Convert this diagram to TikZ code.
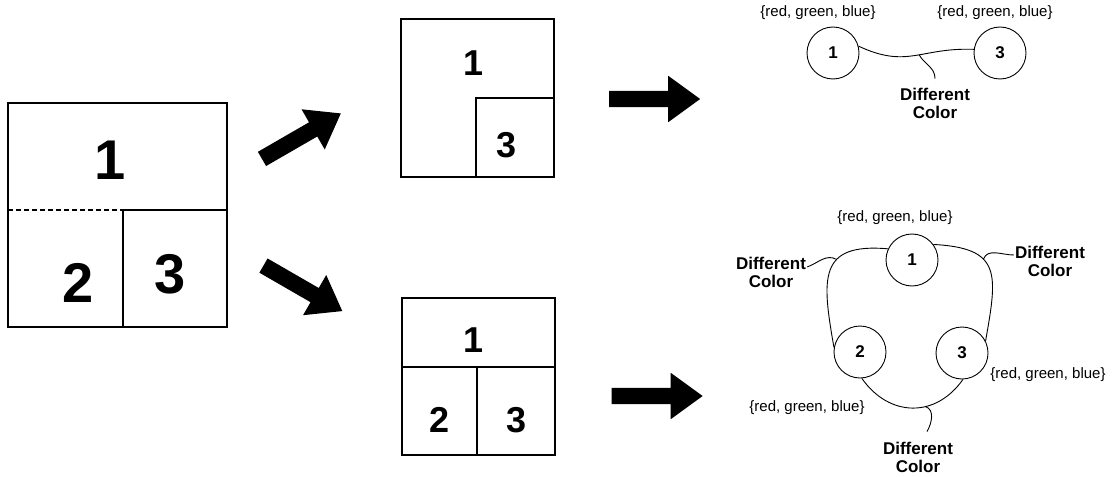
\documentclass[tikz,border=0pt]{standalone}
\usepackage{fontspec}
\setmainfont{Liberation Sans}
\usetikzlibrary{shapes.arrows}

\begin{document}
\begin{tikzpicture}[x=1pt, y=1pt,
  region/.style={line width=2pt},
  bignum/.style={font=\fontsize{56}{56}\selectfont\bfseries, inner sep=0pt},
  midnum/.style={font=\fontsize{36}{36}\selectfont\bfseries, inner sep=0pt},
  vertex/.style={circle, draw=black, line width=0.9pt, minimum size=52pt, inner sep=0pt, font=\fontsize{17}{17}\selectfont\bfseries},
  colorset/.style={font=\fontsize{15}{15}\selectfont, inner sep=1pt},
  note/.style={align=center, font=\fontsize{17}{18}\selectfont\bfseries, inner sep=1pt},
  link/.style={line width=0.9pt},
  bigarrow/.style={single arrow, fill=black, inner sep=0pt, text height=16pt, text depth=0pt,
    minimum height=91pt, single arrow head extend=15pt, single arrow tip angle=72}]
  \useasboundingbox (0,0) rectangle (1115,-476);

  % left map
  \draw[region] (8,-103) rectangle (227,-327);
  \draw[region, dash pattern=on 5pt off 3pt] (8,-210) -- (123,-210);
  \draw[region] (123,-210) -- (227,-210) (123,-210) -- (123,-327);
  \node[bignum](l1) at (110,-160){1};
  \node[bignum](l2) at (78,-283){2};
  \node[bignum](l3) at (170,-274){3};

  \node[bigarrow, rotate=30](up) at (296.5,-139){};
  \node[bigarrow, rotate=-30](down) at (298,-285.5){};

  % upper map
  \draw[region] (401,-19) rectangle (554,-177);
  \draw[region] (476,-177) -- (476,-98) -- (554,-98);
  \node[midnum](u1) at (474,-63){1};
  \node[midnum](u3) at (507,-145){3};

  % lower map
  \draw[region] (402,-298) rectangle (555,-455);
  \draw[region] (402,-367) -- (555,-367) (477,-367) -- (477,-455);
  \node[midnum](d1) at (474,-340){1};
  \node[midnum](d2) at (440,-420){2};
  \node[midnum](d3) at (517,-420){3};

  \node[bigarrow](right1) at (649,-99){};
  \node[bigarrow](right2) at (651.5,-396){};

  % upper graph
  \node[vertex](t1) at (833,-53){1};
  \node[vertex](t3) at (1000,-53){3};
  \node[colorset](td1) at (818,-13){\{red, green, blue\}};
  \node[colorset](td3) at (995,-13){\{red, green, blue\}};
  \node[note](tn) at (935,-103){Different\\Color};
  \draw[link] (t1.15) to[out=-25, in=178, looseness=1.2] coordinate[pos=0.55](te) (t3.172);
  \draw[link] (te) to[out=-60, in=90] ([yshift=8pt]tn.north);

  % lower graph
  \node[vertex](b1) at (912,-260){1};
  \node[vertex](b2) at (860,-352){2};
  \node[vertex](b3) at (962,-353){3};
  \node[colorset](bd1) at (895,-218){\{red, green, blue\}};
  \node[colorset](bd3) at (1048,-375){\{red, green, blue\}};
  \node[colorset](bd2) at (807,-408){\{red, green, blue\}};
  \node[note](bnl) at (771,-272){Different\\Color};
  \node[note](bnr) at (1050,-261){Different\\Color};
  \node[note](bnb) at (918,-457){Different\\Color};

  \draw[link] (b1.155) to[out=175, in=100, looseness=1.6] coordinate[pos=0.38](e12) (b2.170);
  \draw[link] (b1.36) to[out=-3, in=80, looseness=1.6] coordinate[pos=0.38](e13) (b3.27);
  \draw[link] (b2.-86) to[out=-55, in=-125, looseness=1.2] coordinate[pos=0.62](e23) (b3.-88);

  \draw[link] (e12) to[out=150, in=20] ([yshift=5pt]bnl.east);
  \draw[link] (e13) to[out=70, in=180] ([yshift=6pt]bnr.west);
  \draw[link] (e23) to[out=-20, in=60] ([shift={(9pt,9pt)}]bnb.north);
\end{tikzpicture}
\end{document}
